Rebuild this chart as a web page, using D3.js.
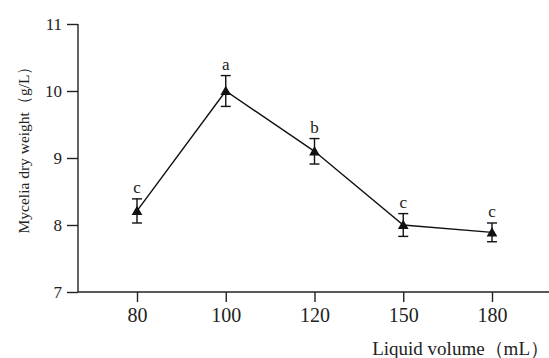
<!DOCTYPE html>
<html><head><meta charset="utf-8">
<script src="https://cdn.jsdelivr.net/npm/d3@7"></script>
<style>body{margin:0;background:#fff}</style>
</head><body>
<svg id="c" width="549" height="358"></svg>
<script>
const categories = ["80","100","120","150","180"];
const values = [8.21, 10.0, 9.1, 8.0, 7.89];
const errors = [0.18, 0.23, 0.19, 0.17, 0.14];
const letters = ["c","a","b","c","c"];
const yTicks = [7,8,9,10,11];

(function () {
const svg = d3.select("#c");
const font = "'Liberation Serif','Times New Roman',Times,serif";
const mLeft = 78, mRight = 549, mTop = 24, mBottom = 292;
const x = d3.scalePoint().domain(categories).range([137, 492]);
const y = d3.scaleLinear().domain([7, 11]).range([mBottom, mTop]);

// y axis
const ya = svg.append("g").attr("transform", `translate(${mLeft},0)`)
  .call(d3.axisLeft(y).tickValues(yTicks).tickSize(11).tickPadding(5).tickFormat(d3.format("d")));
ya.select(".domain").attr("d", `M0,${mTop}V${mBottom}`);
ya.selectAll(".tick text").attr("font-size", 17);
// x axis
const xa = svg.append("g").attr("transform", `translate(0,${mBottom})`)
  .call(d3.axisBottom(x).tickSize(10).tickPadding(6));
xa.select(".domain").attr("d", `M${mLeft},0H${mRight}`);
xa.selectAll(".tick text").attr("font-size", 20);
svg.selectAll(".tick text").attr("font-family", font).attr("fill", "#222");
svg.selectAll(".domain, .tick line").attr("stroke", "#222").attr("stroke-width", 1.4);

// line
svg.append("path")
  .datum(values)
  .attr("fill", "none").attr("stroke", "#111").attr("stroke-width", 1.4)
  .attr("d", d3.line().x((d, i) => x(categories[i])).y(d => y(d)));

// error bars
const g = svg.append("g").attr("stroke", "#111").attr("stroke-width", 1.4);
values.forEach((v, i) => {
  const cx = x(categories[i]);
  g.append("line").attr("x1", cx).attr("x2", cx).attr("y1", y(v + errors[i])).attr("y2", y(v - errors[i]));
  g.append("line").attr("x1", cx - 5).attr("x2", cx + 5).attr("y1", y(v + errors[i])).attr("y2", y(v + errors[i]));
  g.append("line").attr("x1", cx - 5).attr("x2", cx + 5).attr("y1", y(v - errors[i])).attr("y2", y(v - errors[i]));
});

// markers
svg.selectAll(".mk").data(values).enter().append("path")
  .attr("class", "mk")
  .attr("d", d3.symbol(d3.symbolTriangle, 50))
  .attr("transform", (d, i) => `translate(${x(categories[i])},${y(d) + 1})`)
  .attr("fill", "#111");

// letters
svg.selectAll(".lt").data(values).enter().append("text")
  .attr("x", (d, i) => x(categories[i]))
  .attr("y", (d, i) => y(d + errors[i]) - 6)
  .attr("text-anchor", "middle")
  .attr("font-family", font).attr("font-size", 17).attr("fill", "#222")
  .text((d, i) => letters[i]);

// axis titles
svg.append("text").attr("x", 549).attr("y", 355).attr("text-anchor", "end")
  .attr("font-family", font).attr("font-size", 19).attr("fill", "#222")
  .text("Liquid volume（mL）");
svg.append("text").attr("transform", "translate(29,146) rotate(-90)").attr("text-anchor", "middle")
  .attr("font-family", font).attr("font-size", 15.5).attr("fill", "#222")
  .text("Mycelia dry weight（g/L）");
})();
</script>
</body></html>
